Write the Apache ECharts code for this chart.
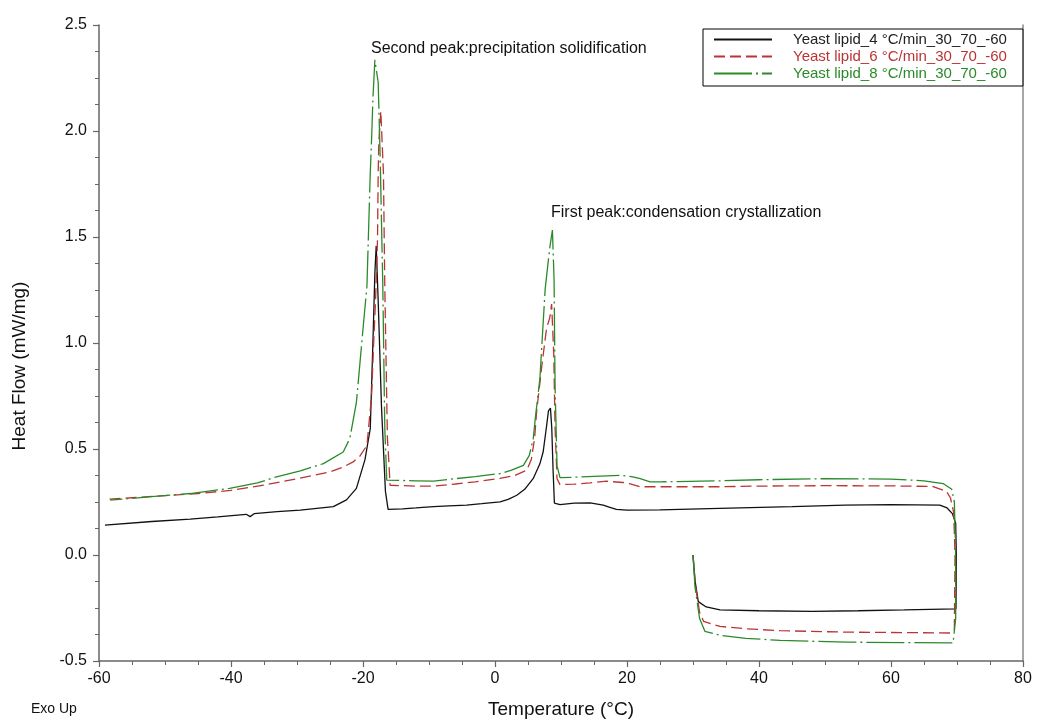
<!DOCTYPE html>
<html>
<head>
<meta charset="utf-8">
<title>Yeast lipid DSC</title>
<script src="https://cdn.jsdelivr.net/npm/echarts/dist/echarts.min.js"></script>
<style>
    html, body { margin: 0; padding: 0; background: #fff; }
    #main { width: 1038px; height: 724px; }
</style>
</head>
<body>
<div id="main"></div>
<script>
// series names
var names = ['Yeast lipid_4 °C/min_30_70_-60', 'Yeast lipid_6 °C/min_30_70_-60', 'Yeast lipid_8 °C/min_30_70_-60'];

// [temperature, heat flow] in run order: 30 -> 70 (heating), then 70 -> -60 (cooling)
var lipid4 = [
    [30, 0.0], [30.3, -0.12], [30.8, -0.22], [32, -0.245], [34.1, -0.259], [40, -0.263], [48, -0.266],
    [55, -0.263], [62, -0.259], [69.85, -0.254], [69.9, 0.0], [69.8, 0.15], [69.3, 0.195], [68.5, 0.222],
    [67.4, 0.235], [60, 0.238], [53, 0.235], [45, 0.228], [34, 0.22], [25, 0.213], [20, 0.212], [18.4, 0.215],
    [17.4, 0.225], [16.4, 0.235], [14.4, 0.246], [12, 0.245], [9.85, 0.238], [9.0, 0.245], [8.8, 0.4],
    [8.6, 0.6], [8.4, 0.693], [8.1, 0.68], [7.8, 0.605], [7.3, 0.487], [6.8, 0.43], [5.8, 0.361], [4.5, 0.31],
    [3.3, 0.282], [2, 0.262], [0.76, 0.251], [-2, 0.242], [-4.3, 0.235], [-7, 0.232], [-9.3, 0.228],
    [-12, 0.222], [-14, 0.218], [-16.2, 0.215], [-16.6, 0.3], [-17.2, 0.7], [-17.7, 1.2], [-18.0, 1.458],
    [-18.2, 1.33], [-18.5, 1.0], [-18.9, 0.596], [-19.7, 0.45], [-21, 0.314], [-22.5, 0.26], [-24.5, 0.228],
    [-29.5, 0.212], [-33, 0.205], [-36.5, 0.195], [-37.1, 0.181], [-37.7, 0.192], [-42, 0.18], [-46.2, 0.169],
    [-52, 0.158], [-59.1, 0.141]
];
var lipid6 = [
    [30, 0.0], [30.4, -0.15], [31, -0.27], [31.6, -0.313], [34.1, -0.337], [38, -0.348], [43.2, -0.357],
    [53.3, -0.364], [62, -0.366], [69, -0.368], [69.6, -0.35], [69.7, 0.0], [69.5, 0.2], [69.0, 0.27],
    [68.4, 0.30], [66.4, 0.323], [60, 0.326], [50, 0.327], [40, 0.325], [34, 0.322], [25, 0.322], [22, 0.322],
    [20.5, 0.335], [19.4, 0.342], [16.9, 0.348], [14.4, 0.34], [12, 0.334], [9.85, 0.332], [9.4, 0.36],
    [9.1, 0.6], [8.9, 0.95], [8.58, 1.184], [8.3, 1.12], [7.8, 1.066], [7.1, 0.894], [6.3, 0.675], [6.0, 0.55],
    [5.5, 0.45], [4.8, 0.40], [3, 0.375], [0.76, 0.361], [-3, 0.345], [-6, 0.335], [-9.3, 0.325], [-12, 0.325],
    [-15.9, 0.329], [-16.1, 0.45], [-16.3, 0.55], [-16.7, 1.27], [-16.9, 1.8], [-17.3, 2.093], [-17.6, 1.95],
    [-17.7, 1.80], [-17.8, 1.49], [-18.1, 1.2], [-18.4, 0.988], [-18.7, 0.753], [-19.4, 0.517], [-20.5, 0.465],
    [-21.5, 0.439], [-23, 0.415], [-25, 0.392], [-30, 0.36], [-35, 0.33], [-40, 0.305], [-45, 0.29],
    [-50, 0.28], [-55, 0.27], [-59, 0.262]
];
var lipid8 = [
    [30, 0.0], [30.3, -0.15], [31, -0.3], [31.8, -0.36], [34.1, -0.379], [38, -0.393], [43.2, -0.403],
    [53.3, -0.411], [62, -0.413], [69.4, -0.415], [69.8, -0.3], [69.8, 0.0], [69.6, 0.25], [69.2, 0.31],
    [67.9, 0.337], [65, 0.35], [60, 0.358], [50, 0.36], [40, 0.355], [34.1, 0.35], [25, 0.345], [23.5, 0.345],
    [22, 0.36], [20.9, 0.369], [18.9, 0.376], [16, 0.372], [12, 0.367], [9.85, 0.365], [9.4, 0.42], [9.1, 0.8],
    [8.95, 1.3], [8.7, 1.533], [8.3, 1.45], [7.6, 1.254], [6.8, 0.831], [6.1, 0.643], [5.8, 0.55], [5.2, 0.47],
    [4.3, 0.423], [2.5, 0.40], [0.76, 0.384], [-3, 0.37], [-6, 0.36], [-9.3, 0.348], [-12, 0.35],
    [-16.4, 0.353], [-16.7, 0.6], [-17.0, 1.27], [-17.4, 1.88], [-17.7, 2.23], [-18.2, 2.336], [-18.5, 2.15],
    [-18.7, 1.96], [-18.9, 1.80], [-19.4, 1.27], [-20, 1.066], [-20.45, 0.91], [-21, 0.72], [-22, 0.549],
    [-23, 0.486], [-26, 0.431], [-29.5, 0.397], [-33.1, 0.369], [-36, 0.34], [-40.2, 0.314], [-46.2, 0.29],
    [-52, 0.275], [-58.3, 0.259]
];

var colors = ['#111111', '#bb3434', '#2a8a2a'];
var axisColor = '#666';
var font = 'Liberation Sans, Arial, sans-serif';

var myChart = echarts.init(document.getElementById('main'));

var option = {
    animation: false,
    backgroundColor: '#fff',
    grid: { left: 99, right: 15, top: 25, bottom: 61 },
    legend: {
        orient: 'vertical',
        left: 703,
        top: 29,
        padding: [3, 16, 5, 10],
        itemGap: 2,
        itemWidth: 58,
        itemHeight: 10,
        itemStyle: { opacity: 0 },
        backgroundColor: '#fff',
        borderColor: '#000',
        borderWidth: 1,
        borderRadius: 0,
        textStyle: { fontSize: 15, fontFamily: font, padding: [0, 0, 0, 16] },
        data: [
            { name: names[0], textStyle: { color: '#222' } },
            { name: names[1], textStyle: { color: colors[1] } },
            { name: names[2], textStyle: { color: colors[2] } }
        ]
    },
    xAxis: {
        type: 'value',
        min: -60,
        max: 80,
        interval: 20,
        name: 'Temperature (°C)',
        nameLocation: 'middle',
        nameGap: 39,
        nameTextStyle: { fontSize: 19, fontFamily: font, color: '#111' },
        axisLine: { onZero: false, lineStyle: { color: axisColor, width: 1.5 } },
        axisTick: { length: 6, lineStyle: { color: axisColor, width: 1.2 } },
        minorTick: { show: true, splitNumber: 4, length: 4, lineStyle: { color: axisColor } },
        axisLabel: { fontSize: 16, fontFamily: font, color: '#111', margin: 10 },
        splitLine: { show: false }
    },
    yAxis: [{
        type: 'value',
        min: -0.5,
        max: 2.5,
        interval: 0.5,
        axisLine: { show: true, onZero: false, lineStyle: { color: axisColor, width: 1.5 } },
        axisTick: { show: true, length: 6, lineStyle: { color: axisColor, width: 1.2 } },
        minorTick: { show: true, splitNumber: 4, length: 4, lineStyle: { color: axisColor } },
        axisLabel: {
            fontSize: 16, fontFamily: font, color: '#111', margin: 12,
            formatter: function (v) { return v.toFixed(1); }
        },
        splitLine: { show: false }
    }, {
        // right frame line
        type: 'value',
        position: 'right',
        min: -0.5,
        max: 2.5,
        axisLine: { show: true, onZero: false, lineStyle: { color: '#888', width: 1.5 } },
        axisTick: { show: false },
        axisLabel: { show: false },
        splitLine: { show: false }
    }],
    graphic: [
        {
            type: 'text', x: 20, y: 366, rotation: Math.PI / 2,
            style: { text: 'Heat Flow (mW/mg)', fontSize: 19, fontFamily: font, fill: '#111', align: 'center', verticalAlign: 'middle' }
        },
        {
            type: 'text', left: 371, top: 41,
            style: { text: 'Second peak:precipitation solidification', fontSize: 16, fontFamily: font, fill: '#111' }
        },
        {
            type: 'text', left: 551, top: 205,
            style: { text: 'First peak:condensation crystallization', fontSize: 16, fontFamily: font, fill: '#111' }
        },
        {
            type: 'text', left: 31, top: 702,
            style: { text: 'Exo Up', fontSize: 14, fontFamily: font, fill: '#111' }
        }
    ],
    series: [
        {
            name: names[0], type: 'line', data: lipid4, showSymbol: false, symbol: 'none',
            lineStyle: { color: colors[0], width: 1.3, type: 'solid' }, itemStyle: { color: colors[0] }
        },
        {
            name: names[1], type: 'line', data: lipid6, showSymbol: false, symbol: 'none',
            lineStyle: { color: colors[1], width: 1.3, type: [11, 5] }, itemStyle: { color: colors[1] }
        },
        {
            name: names[2], type: 'line', data: lipid8, showSymbol: false, symbol: 'none',
            lineStyle: { color: colors[2], width: 1.3, type: [38, 4, 2, 4] }, itemStyle: { color: colors[2] }
        }
    ]
};

myChart.setOption(option);
</script>
</body>
</html>
